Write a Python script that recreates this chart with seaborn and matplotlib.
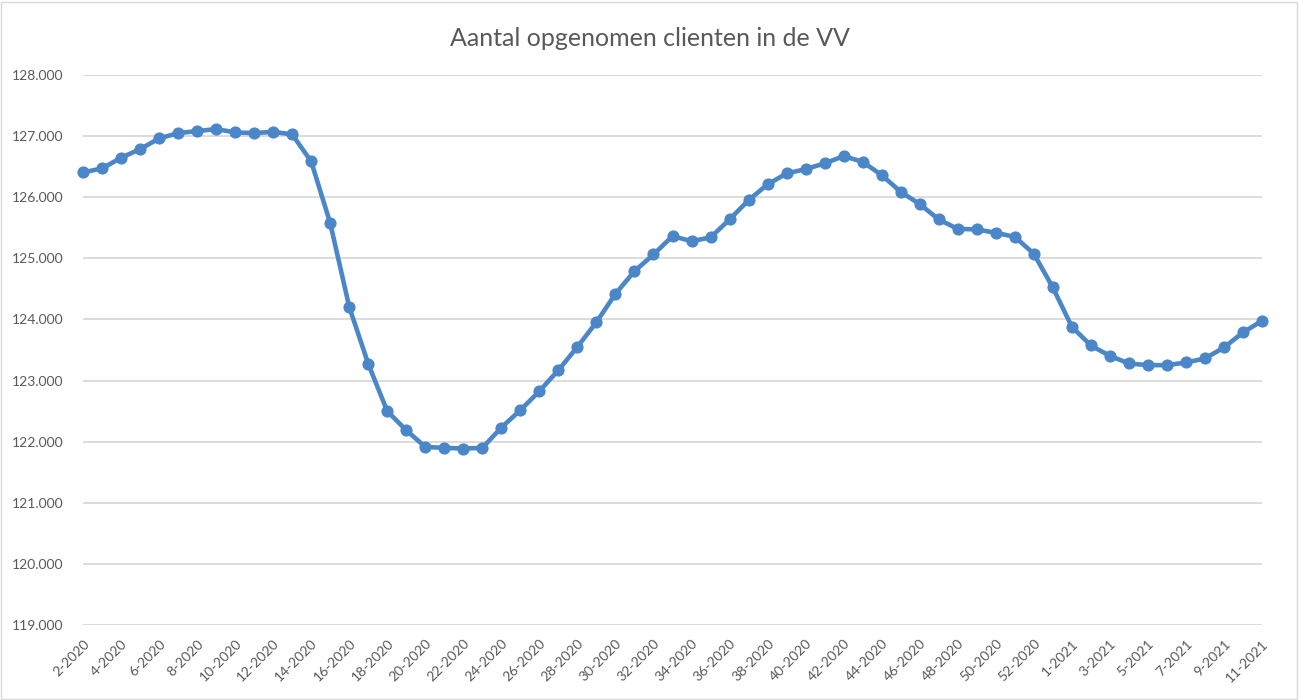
import matplotlib
matplotlib.use("Agg")
import matplotlib.pyplot as plt
import matplotlib.ticker as mticker
import seaborn as sns
import pandas as pd

weeks = [f"{w}-2020" for w in range(2, 54)] + [f"{w}-2021" for w in range(1, 12)]

values = [
    126406, 126471, 126645, 126787, 126962, 127049, 127082, 127115, 127061, 127049,
    127070, 127028, 126585, 125576, 124206, 123273, 122498, 122187, 121914, 121898,
    121888, 121898, 122231, 122515, 122827, 123170, 123551, 123955, 124419, 124790,
    125063, 125363, 125281, 125342, 125636, 125952, 126210, 126389, 126460, 126553,
    126673, 126579, 126362, 126088, 125887, 125636, 125482, 125473, 125417, 125352,
    125075, 124523, 123880, 123574, 123404, 123280, 123252, 123252, 123296, 123361,
    123541, 123787, 123977,
]

title = "Aantal opgenomen clienten in de VV"
y_ticks = [119000, 120000, 121000, 122000, 123000, 124000, 125000, 126000, 127000, 128000]

df = pd.DataFrame({"week": weeks, "pos": range(len(weeks)), "value": values})

sns.set_theme(style="white")
plt.rcParams["font.family"] = ["Lato", "DejaVu Sans"]

W, H = 1299, 700
fig = plt.figure(figsize=(W / 100, H / 100), dpi=100)
ax = fig.add_axes([83 / W, 1 - 625 / H, (1262 - 83) / W, (625 - 75) / H])

color = "#4a86c8"
sns.lineplot(data=df, x="pos", y="value", ax=ax, color=color, linewidth=3.3,
             marker="o", markersize=8, markeredgecolor=color, markerfacecolor=color,
             clip_on=False)

ax.set_xlim(0, len(weeks) - 1)
ax.set_ylim(y_ticks[0], y_ticks[-1])
ax.set_yticks(y_ticks)
ax.yaxis.set_major_formatter(mticker.FuncFormatter(lambda v, p: f"{int(v):,}".replace(",", ".")))
ax.set_xticks(list(range(0, len(weeks), 2)))
ax.set_xticklabels(weeks[::2], rotation=45, ha="right", rotation_mode="anchor")
ax.tick_params(axis="x", labelsize=10, colors="#595959", length=0, pad=9)
ax.tick_params(axis="y", labelsize=10, colors="#595959", length=0, pad=14)
ax.grid(axis="y", color="#d9d9d9", linewidth=1.3)
ax.set_axisbelow(True)
for s in ax.spines.values():
    s.set_visible(False)
ax.set_xlabel("")
ax.set_ylabel("")

fig.text(0.5, 1 - 38 / H, title, ha="center", va="center", fontsize=18, color="#595959")

border = plt.Rectangle((1 / W, 1 / H), 1 - 3 / W, 1 - 3 / H, transform=fig.transFigure,
                       fill=False, edgecolor="#d9d9d9", linewidth=1)
fig.patches.append(border)

fig.savefig("out.png", dpi=100, facecolor="white")
